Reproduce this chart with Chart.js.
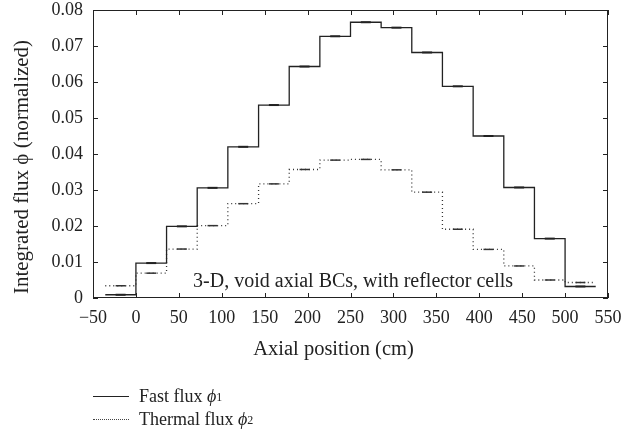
<!DOCTYPE html>
<html>
<head>
<meta charset="utf-8">
<script src="https://cdn.jsdelivr.net/npm/chart.js@4.4.1/dist/chart.umd.min.js"></script>
<style>
  body { margin: 0; background: #fff; }
  #wrap { position: relative; width: 642px; height: 437px; }
  #legend {
    position: absolute; left: 93px; top: 385px;
    font-family: "Liberation Serif", serif; font-size: 18px; color: #222;
    line-height: 23px;
  }
  #legend .row { display: flex; align-items: center; }
  #legend .sample { width: 36px; margin-right: 10px; height: 0; }
  #legend sub { font-size: 12px; vertical-align: -5px; line-height: 0; }
</style>
</head>
<body>
<div id="wrap">
  <canvas id="fluxChart"></canvas>
  <div id="legend">
    <div class="row"><span class="sample" style="border-top:1.3px solid #222"></span>Fast flux&nbsp;<i>ϕ</i><sub>1</sub></div>
    <div class="row"><span class="sample" style="border-top:1.5px dotted #444"></span>Thermal flux&nbsp;<i>ϕ</i><sub>2</sub></div>
  </div>
</div>
<script>
// Cell edges (cm): one reflector cell each side, 14 core cells
const edges = [-35.7, 0, 35.7, 71.4, 107.1, 142.9, 178.6, 214.3, 250, 285.7, 321.4, 357.1, 392.9, 428.6, 464.3, 500, 535.7];
const fastFlux = [0.0009, 0.0097, 0.0199, 0.0306, 0.0420, 0.0536, 0.0643, 0.0727, 0.0766, 0.0751, 0.0682, 0.0588, 0.0450, 0.0307, 0.0165, 0.0032];
const thermalFlux = [0.0034, 0.0069, 0.0136, 0.0201, 0.0262, 0.0317, 0.0357, 0.0383, 0.0385, 0.0356, 0.0294, 0.0191, 0.0135, 0.0089, 0.0050, 0.0043];
const xTicks = [-50, 0, 50, 100, 150, 200, 250, 300, 350, 400, 450, 500, 550];
const yTicks = [0, 0.01, 0.02, 0.03, 0.04, 0.05, 0.06, 0.07, 0.08];

const serif = "'Liberation Serif', serif";
const ink = '#222';

function stepPoints(values) {
    return edges.map((x, i) => ({ x: x, y: values[Math.min(i, values.length - 1)] }));
}
function centerPoints(values) {
    return values.map((v, i) => ({ x: (edges[i] + edges[i + 1]) / 2, y: v }));
}

// Box, inward ticks, axis titles and the caption
const framePlugin = {
    id: 'frame',
    afterDraw(chart) {
        const { ctx, chartArea: a, scales } = chart;
        ctx.save();
        ctx.strokeStyle = ink;
        ctx.lineWidth = 1;
        ctx.strokeRect(a.left + 0.5, a.top + 0.5, a.right - a.left - 1, a.bottom - a.top - 1);
        const len = 5;
        ctx.beginPath();
        xTicks.forEach(v => {
            const px = Math.round(scales.x.getPixelForValue(v)) + 0.5;
            ctx.moveTo(px, a.bottom); ctx.lineTo(px, a.bottom - len);
            ctx.moveTo(px, a.top); ctx.lineTo(px, a.top + len);
        });
        yTicks.forEach(v => {
            const py = Math.round(scales.y.getPixelForValue(v)) + 0.5;
            ctx.moveTo(a.left, py); ctx.lineTo(a.left + len, py);
            ctx.moveTo(a.right, py); ctx.lineTo(a.right - len, py);
        });
        ctx.stroke();

        ctx.fillStyle = ink;
        ctx.textAlign = 'center';
        ctx.textBaseline = 'middle';
        ctx.font = '20px ' + serif;
        ctx.fillText('3-D, void axial BCs, with reflector cells',
            scales.x.getPixelForValue(253), scales.y.getPixelForValue(0.0045));

        ctx.font = '20.5px ' + serif;
        ctx.fillText('Axial position (cm)', (a.left + a.right) / 2 - 17, 350);

        ctx.translate(22, (a.top + a.bottom) / 2 + 13);
        ctx.rotate(-Math.PI / 2);
        ctx.font = '21px ' + serif;
        ctx.fillText('Integrated flux ϕ (normalized)', 0, 0);
        ctx.restore();
    }
};

const ctx = document.getElementById('fluxChart').getContext('2d');
new Chart(ctx, {
    type: 'line',
    data: {
        datasets: [{
            label: 'Fast flux',
            data: stepPoints(fastFlux),
            stepped: 'before',
            borderColor: ink,
            borderWidth: 1.3,
            pointRadius: 0,
            fill: false
        }, {
            label: 'Thermal flux',
            data: stepPoints(thermalFlux),
            stepped: 'before',
            borderColor: '#333',
            borderWidth: 1.3,
            borderDash: [1, 3],
            pointRadius: 0,
            fill: false
        }, {
            label: 'fast marks',
            data: centerPoints(fastFlux),
            showLine: false,
            pointStyle: 'line',
            pointRadius: 5,
            borderColor: ink,
            borderWidth: 2
        }, {
            label: 'thermal marks',
            data: centerPoints(thermalFlux),
            showLine: false,
            pointStyle: 'line',
            pointRadius: 5,
            borderColor: '#333',
            borderWidth: 1.5
        }]
    },
    options: {
        responsive: true,
        maintainAspectRatio: false,
        animation: false,
        layout: { padding: { left: 12, right: 34, top: 10, bottom: 77 } },
        plugins: {
            legend: { display: false },
            tooltip: { enabled: false }
        },
        scales: {
            x: {
                type: 'linear',
                min: -50,
                max: 550,
                afterBuildTicks: s => { s.ticks = xTicks.map(v => ({ value: v })); },
                afterFit: s => { s.height = 62; s.paddingLeft = 0; s.paddingRight = 0; },
                grid: { display: false, drawTicks: false },
                border: { display: false },
                ticks: {
                    padding: 9,
                    color: ink,
                    font: { family: serif, size: 18 },
                    callback: v => (v < 0 ? '\u2212' + Math.abs(v) : String(v))
                }
            },
            y: {
                min: 0,
                max: 0.08,
                afterBuildTicks: s => { s.ticks = yTicks.map(v => ({ value: v })); },
                afterFit: s => { s.width = 81; s.paddingTop = 0; s.paddingBottom = 0; },
                grid: { display: false, drawTicks: false },
                border: { display: false },
                ticks: {
                    padding: 10,
                    color: ink,
                    font: { family: serif, size: 18 },
                    callback: v => (v === 0 ? '0' : v.toFixed(2))
                }
            }
        }
    },
    plugins: [framePlugin]
});
</script>
</body>
</html>
